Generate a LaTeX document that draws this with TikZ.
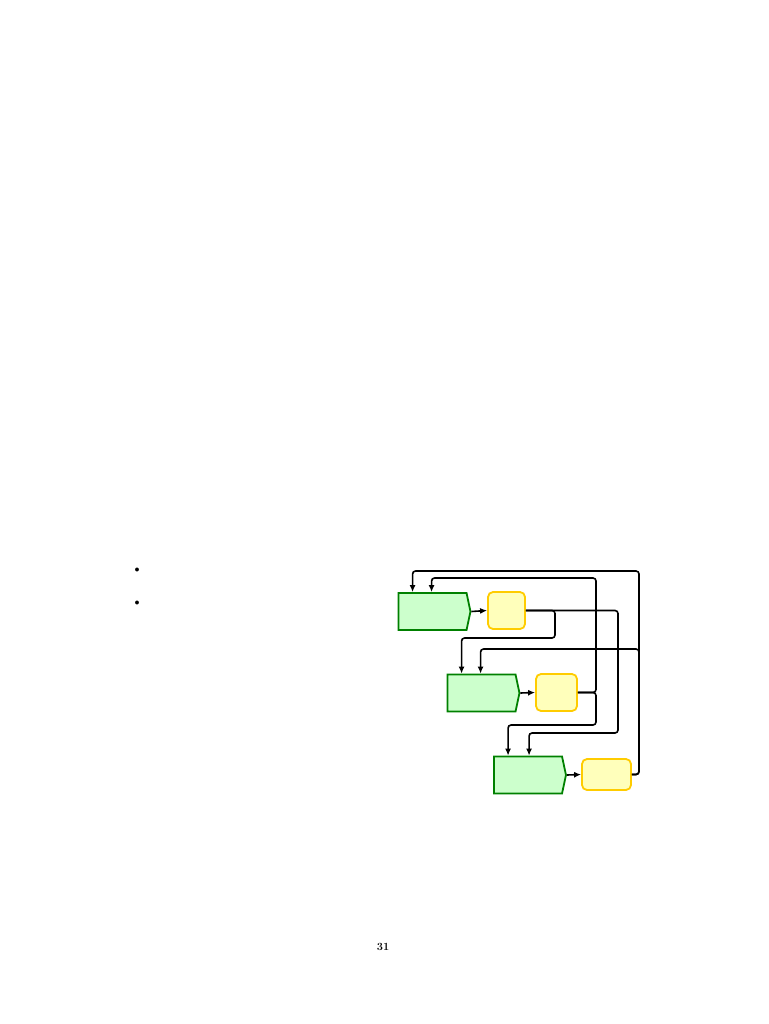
\documentclass[tikz,border=0pt]{standalone}
\usetikzlibrary{shapes.symbols,arrows.meta}
\definecolor{gfill}{HTML}{CCFFCC}
\definecolor{gdraw}{HTML}{008000}
\definecolor{yfill}{HTML}{FFFFBB}
\definecolor{ydraw}{HTML}{FFCC00}
\tikzset{
  gbox/.style={shape=signal, signal to=east, signal pointer angle=156, fill=gfill, draw=gdraw, line width=1.8pt, minimum width=72pt, minimum height=37pt, inner sep=0pt},
  ybox/.style={rectangle, rounded corners=5pt, fill=yfill, draw=ydraw, line width=1.8pt, inner sep=0pt},
  conn/.style={draw=black, line width=1.6pt, rounded corners=3pt, -{Latex[length=7pt,width=6pt]}},
}
\begin{document}
\begin{tikzpicture}[x=1pt,y=-1pt]
\fill[white] (0,0) rectangle (768,1024);
\useasboundingbox (0,0) rectangle (768,1024);
% bullets
\node (b1) at (137,570) {$\bullet$};
\node (b2) at (137,603) {$\bullet$};
% page number
\node (pg) at (383,947) {\fontsize{11}{13}\selectfont\bfseries 31};
% nodes
\node[gbox] (G1) at (432.5,611.5) {};
\node[ybox, minimum width=37pt, minimum height=37pt] (Y1) at (506.5,610.5) {};
\node[gbox] (G2) at (481.5,693) {};
\node[ybox, minimum width=41pt, minimum height=37pt] (Y2) at (556.5,692.5) {};
\node[gbox] (G3) at (528,775) {};
\node[ybox, minimum width=49pt, minimum height=31pt] (Y3) at (606.5,774.5) {};
% forward arrows
\draw[conn] (G1.east) -- (Y1.west);
\draw[conn] (G2.east) -- (Y2.west);
\draw[conn] (G3.east) -- (Y3.west);
% feedback connectors
\draw[conn] (Y1.east) -| (555,638) -| ([xshift=15pt]G2.north west);
\draw[conn] (Y1.east) -| (618,733) -| ([xshift=36pt]G3.north west);
\draw[conn] (Y2.east) -| (596,578) -| ([xshift=34pt]G1.north west);
\draw[conn] (Y2.east) -| (596,725) -| ([xshift=15pt]G3.north west);
\draw[conn] (Y3.east) -| (639,571) -| ([xshift=15pt]G1.north west);
\draw[conn] (Y3.east) -| (639,649) -| ([xshift=34pt]G2.north west);
\end{tikzpicture}
\end{document}
